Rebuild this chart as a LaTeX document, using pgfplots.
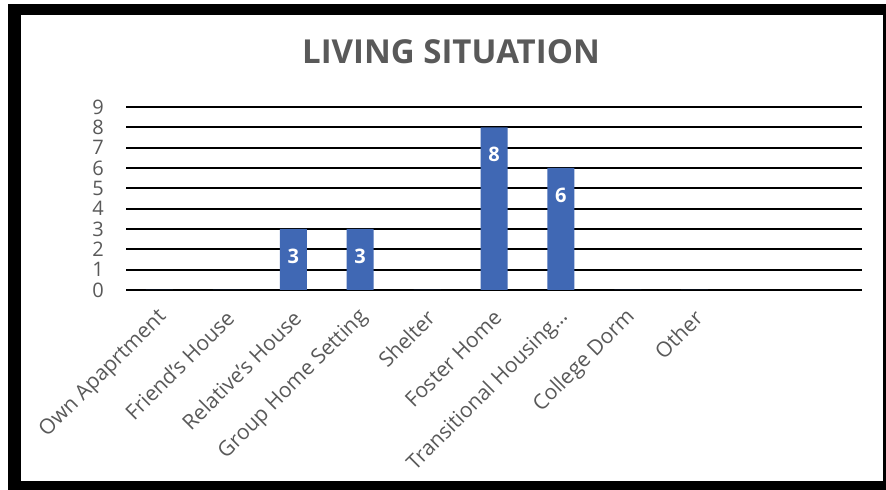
\documentclass[border=0pt]{standalone}
\usepackage{pgfplots}
\pgfplotsset{compat=1.18}
\usepackage{fontspec}
\setmainfont{Open Sans}
\definecolor{txtgray}{RGB}{89,89,89}
\definecolor{barblue}{RGB}{64,104,180}
\begin{document}
\begin{tikzpicture}[x=1bp,y=1bp]
\useasboundingbox (0,0) rectangle (886,490);
\fill[white] (0,0) rectangle (886,490);
\fill[black] (8,0) rectangle (886,486);
\fill[white] (21,9) rectangle (883,475);
\node[text=txtgray, font={\fontsize{33bp}{38bp}\selectfont\bfseries}] at (451,438) {LIVING SITUATION};
\begin{axis}[
  at={(126bp,200bp)}, anchor=south west,
  scale only axis, width=736bp, height=183bp,
  xmin=-0.5, xmax=10.5, ymin=0, ymax=9,
  axis line style={draw=none},
  major tick length=0pt,
  ymajorgrids, grid style={black, line width=1.7bp},
  ytick={0,1,...,9},
  xtick={0,1,...,10},
  xticklabels={Own Apaprtment,Friend's House,Relative's House,Group Home Setting,Shelter,Foster Home,Transitional Housing…,College Dorm,Other,,},
  /pgf/number format/assume math mode=true,
  tick label style={text=txtgray},
  yticklabel style={inner sep=0pt, anchor=east, xshift=-22bp, font=\fontsize{20bp}{24bp}\selectfont},
  xticklabel style={inner sep=0pt, anchor=east, xshift=4bp, yshift=-24bp, rotate=45, font=\fontsize{21bp}{25bp}\selectfont},
  ybar, bar width=27bp,
  nodes near coords={\pgfmathfloatifflags{\pgfplotspointmeta}{0}{}{\pgfmathprintnumber{\pgfplotspointmeta}}},
  every node near coord/.append style={anchor=center, yshift=-27bp, text=white, font=\fontsize{20bp}{24bp}\selectfont\bfseries},
  clip=false,
]
\addplot[fill=barblue, draw=none] coordinates {(0,0) (1,0) (2,3) (3,3) (4,0) (5,8) (6,6) (7,0) (8,0)};
\end{axis}
\end{tikzpicture}
\end{document}
